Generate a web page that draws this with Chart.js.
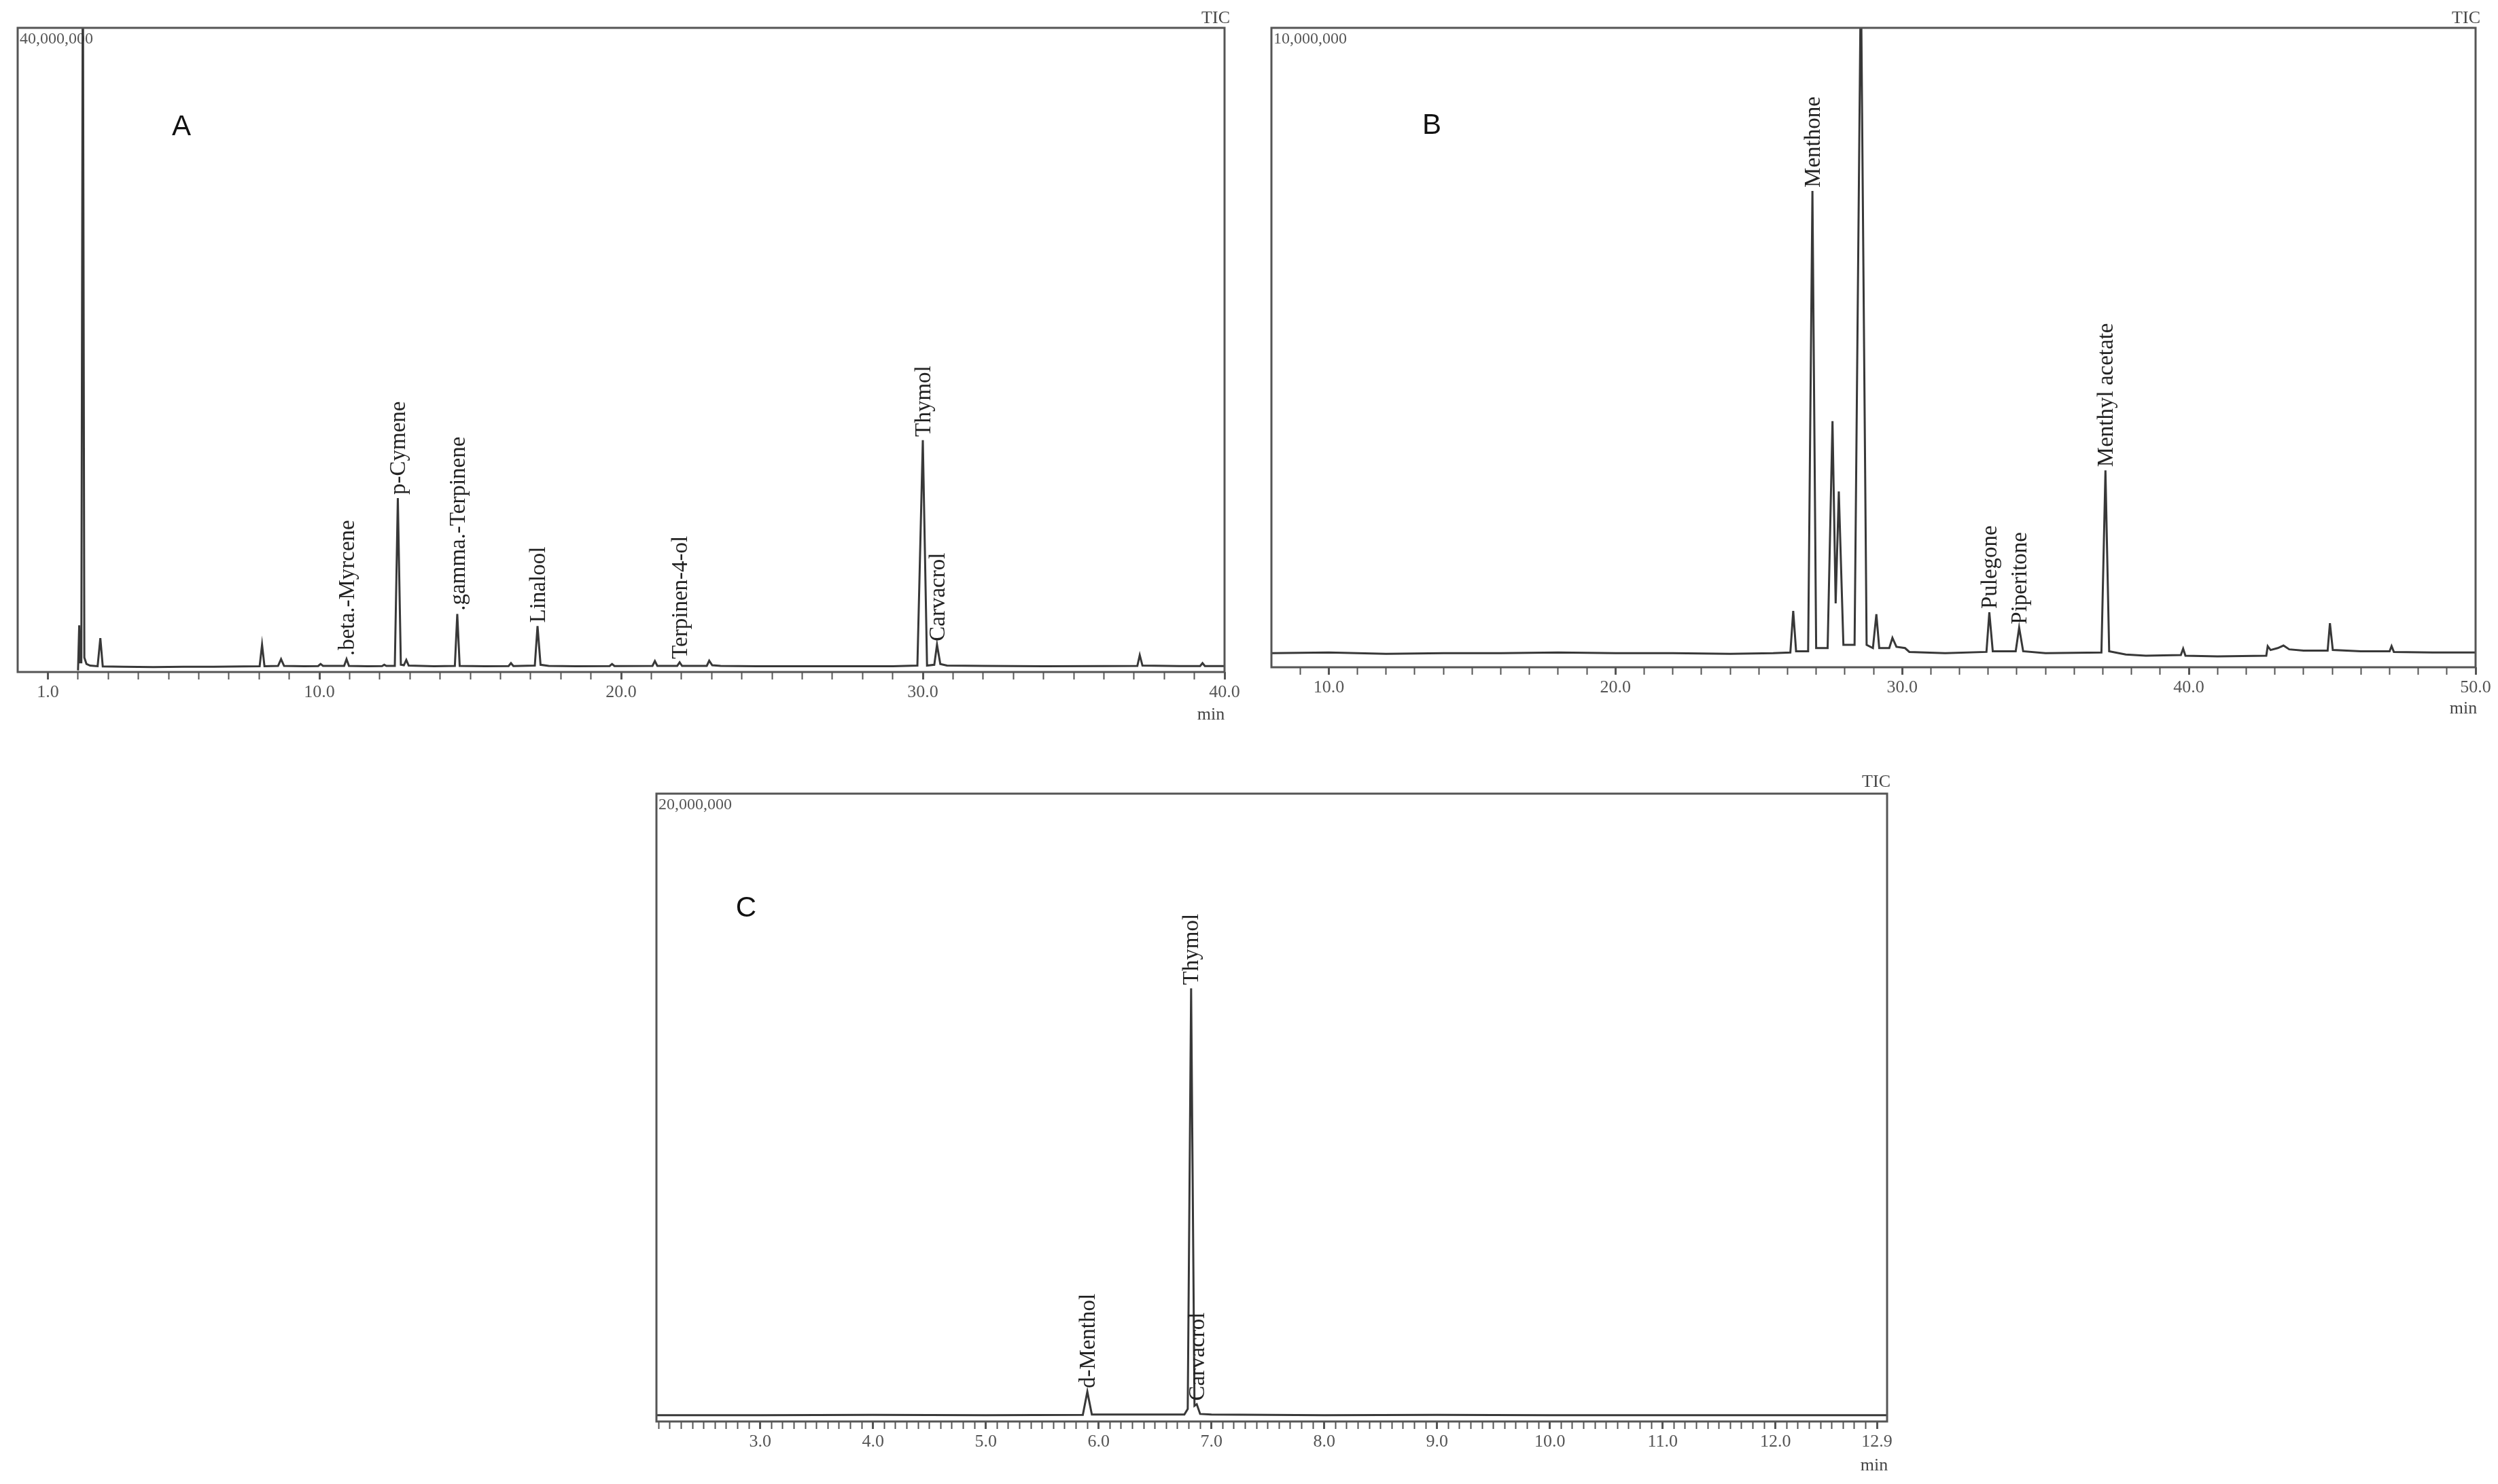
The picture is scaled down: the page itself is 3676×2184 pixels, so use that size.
<!DOCTYPE html>
<html>
<head>
<meta charset="utf-8">
<script src="https://cdn.jsdelivr.net/npm/chart.js@4.4.1/dist/chart.umd.min.js"></script>
<style>
  body { margin: 0; background: #fff; width: 3676px; height: 2184px; position: relative; overflow: hidden; }
  canvas { position: absolute; }
</style>
</head>
<body>
<canvas id="chartA" width="1850" height="1075" style="left:0px;top:0px"></canvas>
<canvas id="chartB" width="1836" height="1075" style="left:1840px;top:0px"></canvas>
<canvas id="chartC" width="1880" height="1064" style="left:930px;top:1120px"></canvas>
<script>
// Cromatogramas TIC (A, B, C)

// --- Painel A ---
const timeA = [2.00, 2.04, 2.07, 2.11, 2.16, 2.21, 2.28, 2.40, 2.65, 2.74, 2.82,
  3.5, 4.5, 5.5, 6.5, 7.5, 8.02, 8.10, 8.18, 8.63, 8.73, 8.83, 9.5, 9.96, 10.04, 10.12,
  10.82, 10.90, 10.98, 11.6, 12.08, 12.15, 12.22, 12.50, 12.60, 12.70, 12.80, 12.88, 12.96, 13.8,
  14.49, 14.57, 14.65, 15.5, 16.27, 16.35, 16.43, 17.14, 17.23, 17.33, 17.6, 18.5,
  19.62, 19.70, 19.78, 21.04, 21.12, 21.20, 21.86, 21.94, 22.02, 22.84, 22.92, 23.02,
  23.3, 24.5, 26.0, 27.5, 29.0, 29.82, 30.00, 30.14, 30.38, 30.47, 30.58, 30.8,
  32.0, 34.0, 36.0, 37.11, 37.19, 37.28, 38.5, 39.19, 39.27, 39.35, 40.0];
const signalA = [0.10e6, 2.9e6, 0.6e6, 0.6e6, 46e6, 0.9e6, 0.5e6, 0.4e6, 0.36e6, 2.1e6, 0.35e6,
  0.33e6, 0.31e6, 0.33e6, 0.33e6, 0.35e6, 0.36e6, 1.7e6, 0.36e6, 0.38e6, 0.8e6, 0.38e6, 0.36e6, 0.37e6, 0.5e6, 0.38e6,
  0.38e6, 0.8e6, 0.38e6, 0.36e6, 0.37e6, 0.45e6, 0.38e6, 0.38e6, 10.8e6, 0.45e6, 0.42e6, 0.75e6, 0.4e6, 0.36e6,
  0.38e6, 3.6e6, 0.38e6, 0.36e6, 0.37e6, 0.55e6, 0.37e6, 0.4e6, 2.85e6, 0.45e6, 0.38e6, 0.36e6,
  0.37e6, 0.5e6, 0.37e6, 0.38e6, 0.68e6, 0.38e6, 0.38e6, 0.6e6, 0.38e6, 0.38e6, 0.7e6, 0.42e6,
  0.38e6, 0.36e6, 0.36e6, 0.36e6, 0.36e6, 0.4e6, 14.4e6, 0.4e6, 0.45e6, 1.7e6, 0.5e6, 0.4e6,
  0.38e6, 0.36e6, 0.37e6, 0.38e6, 1.05e6, 0.4e6, 0.37e6, 0.37e6, 0.55e6, 0.37e6, 0.37e6];
const peakNamesA = ['.beta.-Myrcene', 'p-Cymene', '.gamma.-Terpinene', 'Linalool', 'Terpinen-4-ol', 'Thymol', 'Carvacrol'];
const peakTimesA = [10.90, 12.60, 14.57, 17.23, 21.94, 30.00, 30.47];
const tickLabelsA = [1, 10, 20, 30, 40];

// --- Painel B ---
const timeB = [8.0, 10.0, 12.0, 14.0, 16.0, 18.0, 20.0, 22.0, 24.0, 25.5, 26.10, 26.20, 26.30,
  26.72, 26.87, 27.00, 27.40, 27.57, 27.68, 27.79, 27.95, 28.34, 28.56, 28.76, 28.98, 29.10, 29.20,
  29.55, 29.66, 29.80, 30.10, 30.25, 31.5, 32.94, 33.04, 33.16, 33.96, 34.08, 34.22, 35.0,
  36.95, 37.09, 37.22, 37.8, 38.5, 39.72, 39.80, 39.88, 41.0, 42.70, 42.75, 42.85, 43.10, 43.30,
  43.50, 44.0, 44.84, 44.92, 45.02, 46.0, 47.00, 47.07, 47.15, 48.5, 50.0];
const signalB = [0.22e6, 0.23e6, 0.21e6, 0.22e6, 0.22e6, 0.23e6, 0.22e6, 0.22e6, 0.21e6, 0.22e6, 0.23e6, 0.88e6, 0.25e6,
  0.25e6, 7.45e6, 0.3e6, 0.3e6, 3.85e6, 1.0e6, 2.75e6, 0.35e6, 0.35e6, 10.9e6, 0.35e6, 0.3e6, 0.83e6, 0.3e6,
  0.3e6, 0.46e6, 0.32e6, 0.3e6, 0.24e6, 0.22e6, 0.24e6, 0.86e6, 0.25e6, 0.25e6, 0.62e6, 0.25e6, 0.22e6,
  0.23e6, 3.08e6, 0.25e6, 0.2e6, 0.18e6, 0.19e6, 0.29e6, 0.18e6, 0.17e6, 0.18e6, 0.33e6, 0.27e6, 0.3e6, 0.34e6,
  0.28e6, 0.26e6, 0.26e6, 0.69e6, 0.27e6, 0.25e6, 0.25e6, 0.33e6, 0.24e6, 0.23e6, 0.23e6];
const peakNamesB = ['Menthone', 'Pulegone', 'Piperitone', 'Menthyl acetate'];
const peakTimesB = [26.87, 33.04, 34.08, 37.09];
const tickLabelsB = [10, 20, 30, 40, 50];

// --- Painel C ---
const timeC = [2.08, 3.0, 4.0, 5.0, 5.86, 5.90, 5.94, 6.76, 6.79, 6.82, 6.85, 6.87, 6.90, 7.0,
  8.0, 9.0, 10.0, 11.0, 12.0, 12.99];
const signalC = [0.2e6, 0.2e6, 0.21e6, 0.2e6, 0.21e6, 0.95e6, 0.22e6, 0.22e6, 0.4e6, 13.8e6, 0.5e6, 0.55e6, 0.24e6, 0.22e6,
  0.2e6, 0.21e6, 0.2e6, 0.2e6, 0.2e6, 0.2e6];
const peakNamesC = ['d-Menthol', 'Thymol', 'Carvacrol'];
const peakTimesC = [5.90, 6.82, 6.87];
const tickLabelsC = [3, 4, 5, 6, 7, 8, 9, 10, 11, 12, 12.9];

const SERIF = '"Liberation Serif", "Times New Roman", serif';

function tickValues(from, to, step) {
    const out = [];
    for (let v = from; v <= to + 1e-9; v += step) out.push(Math.round(v * 10) / 10);
    return out;
}

// plugin com moldura, letra do painel, TIC, min e nomes dos picos
function panelPlugin(cfg) {
    return {
        id: 'panel' + cfg.letter,
        afterDatasetsDraw(chart) {
            const ctx = chart.ctx;
            const a = chart.chartArea;
            const xs = chart.scales.x, ys = chart.scales.y;
            ctx.save();
            ctx.strokeStyle = '#555';
            ctx.lineWidth = 3;
            ctx.strokeRect(a.left, a.top, a.right - a.left, a.bottom - a.top);

            ctx.fillStyle = '#111';
            ctx.font = '42px "Liberation Sans", Arial, sans-serif';
            ctx.textAlign = 'center';
            ctx.textBaseline = 'middle';
            ctx.fillText(cfg.letter, cfg.letterPos[0], cfg.letterPos[1]);

            ctx.fillStyle = '#444';
            ctx.font = '26px ' + SERIF;
            ctx.textAlign = 'right';
            ctx.fillText('TIC', cfg.ticPos[0], cfg.ticPos[1]);
            ctx.textAlign = 'center';
            ctx.fillText('min', cfg.minPos[0], cfg.minPos[1]);

            // nomes dos compostos, girados, logo acima do ápice
            ctx.fillStyle = '#222';
            ctx.font = '33px ' + SERIF;
            cfg.names.forEach((name, i) => {
                const t = cfg.times[i];
                const idx = cfg.timeArr.indexOf(t);
                const h = cfg.sigArr[idx];
                const px = xs.getPixelForValue(t);
                const py = ys.getPixelForValue(h);
                ctx.save();
                ctx.translate(px + 2, py - 5);
                ctx.rotate(-Math.PI / 2);
                ctx.textAlign = 'left';
                ctx.textBaseline = 'middle';
                ctx.fillText(name, 0, 0);
                ctx.restore();
            });
            ctx.restore();
        }
    };
}

function criarGrafico(id, cfg) {
    const canvas = document.getElementById(id);
    const ticks = tickValues(cfg.tickFrom, cfg.xMax, cfg.tickStep);
    return new Chart(canvas, {
        type: 'line',
        data: {
            datasets: [{
                data: cfg.timeArr.map((t, i) => ({ x: t, y: cfg.sigArr[i] })),
                borderColor: '#383838',
                borderWidth: 3,
                pointRadius: 0,
                tension: 0,
                fill: false
            }]
        },
        options: {
            responsive: false,
            devicePixelRatio: 1,
            animation: false,
            layout: { padding: cfg.padding },
            plugins: { legend: { display: false }, tooltip: { enabled: false } },
            scales: {
                x: {
                    type: 'linear',
                    min: cfg.xMin,
                    max: cfg.xMax,
                    afterBuildTicks: s => { s.ticks = ticks.map(v => ({ value: v })); },
                    afterFit: s => { s.height = cfg.xHeight; },
                    border: { display: false },
                    grid: {
                        drawOnChartArea: false,
                        drawTicks: true,
                        tickLength: 11,
                        tickColor: '#555',
                        tickWidth: c => cfg.labels.includes(c.tick.value) ? 3 : 2
                    },
                    ticks: {
                        autoSkip: false,
                        maxRotation: 0,
                        padding: 4,
                        color: '#555',
                        font: { family: SERIF, size: 26 },
                        callback: v => cfg.labels.includes(v) ? v.toFixed(1) : ''
                    }
                },
                y: {
                    type: 'linear',
                    min: 0,
                    max: cfg.yMax,
                    afterBuildTicks: s => { s.ticks = [{ value: cfg.yMax }]; },
                    afterFit: s => { s.width = 0; },
                    border: { display: false },
                    grid: { display: false },
                    ticks: {
                        mirror: true,
                        padding: 3,
                        labelOffset: 17,
                        color: '#555',
                        font: { family: SERIF, size: 24 },
                        callback: v => v.toLocaleString('en-US')
                    }
                }
            }
        },
        plugins: [panelPlugin(cfg)]
    });
}

criarGrafico('chartA', {
    letter: 'A', timeArr: timeA, sigArr: signalA, names: peakNamesA, times: peakTimesA,
    labels: tickLabelsA, xMin: 0, xMax: 40, tickFrom: 1, tickStep: 1, yMax: 40000000,
    padding: { left: 26, top: 41, right: 48, bottom: 0 }, xHeight: 86,
    letterPos: [267, 187], ticPos: [1810, 27], minPos: [1782, 1052]
});

criarGrafico('chartB', {
    letter: 'B', timeArr: timeB, sigArr: signalB, names: peakNamesB, times: peakTimesB,
    labels: tickLabelsB, xMin: 8, xMax: 50, tickFrom: 9, tickStep: 1, yMax: 10000000,
    padding: { left: 31, top: 41, right: 33, bottom: 0 }, xHeight: 93,
    letterPos: [267, 185], ticPos: [1810, 27], minPos: [1785, 1043]
});

criarGrafico('chartC', {
    letter: 'C', timeArr: timeC, sigArr: signalC, names: peakNamesC, times: peakTimesC,
    labels: tickLabelsC, xMin: 2.08, xMax: 12.99, tickFrom: 2.1, tickStep: 0.1, yMax: 20000000,
    padding: { left: 36, top: 48, right: 33, bottom: 0 }, xHeight: 92,
    letterPos: [168, 217], ticPos: [1852, 31], minPos: [1828, 1037]
});
</script>
</body>
</html>
